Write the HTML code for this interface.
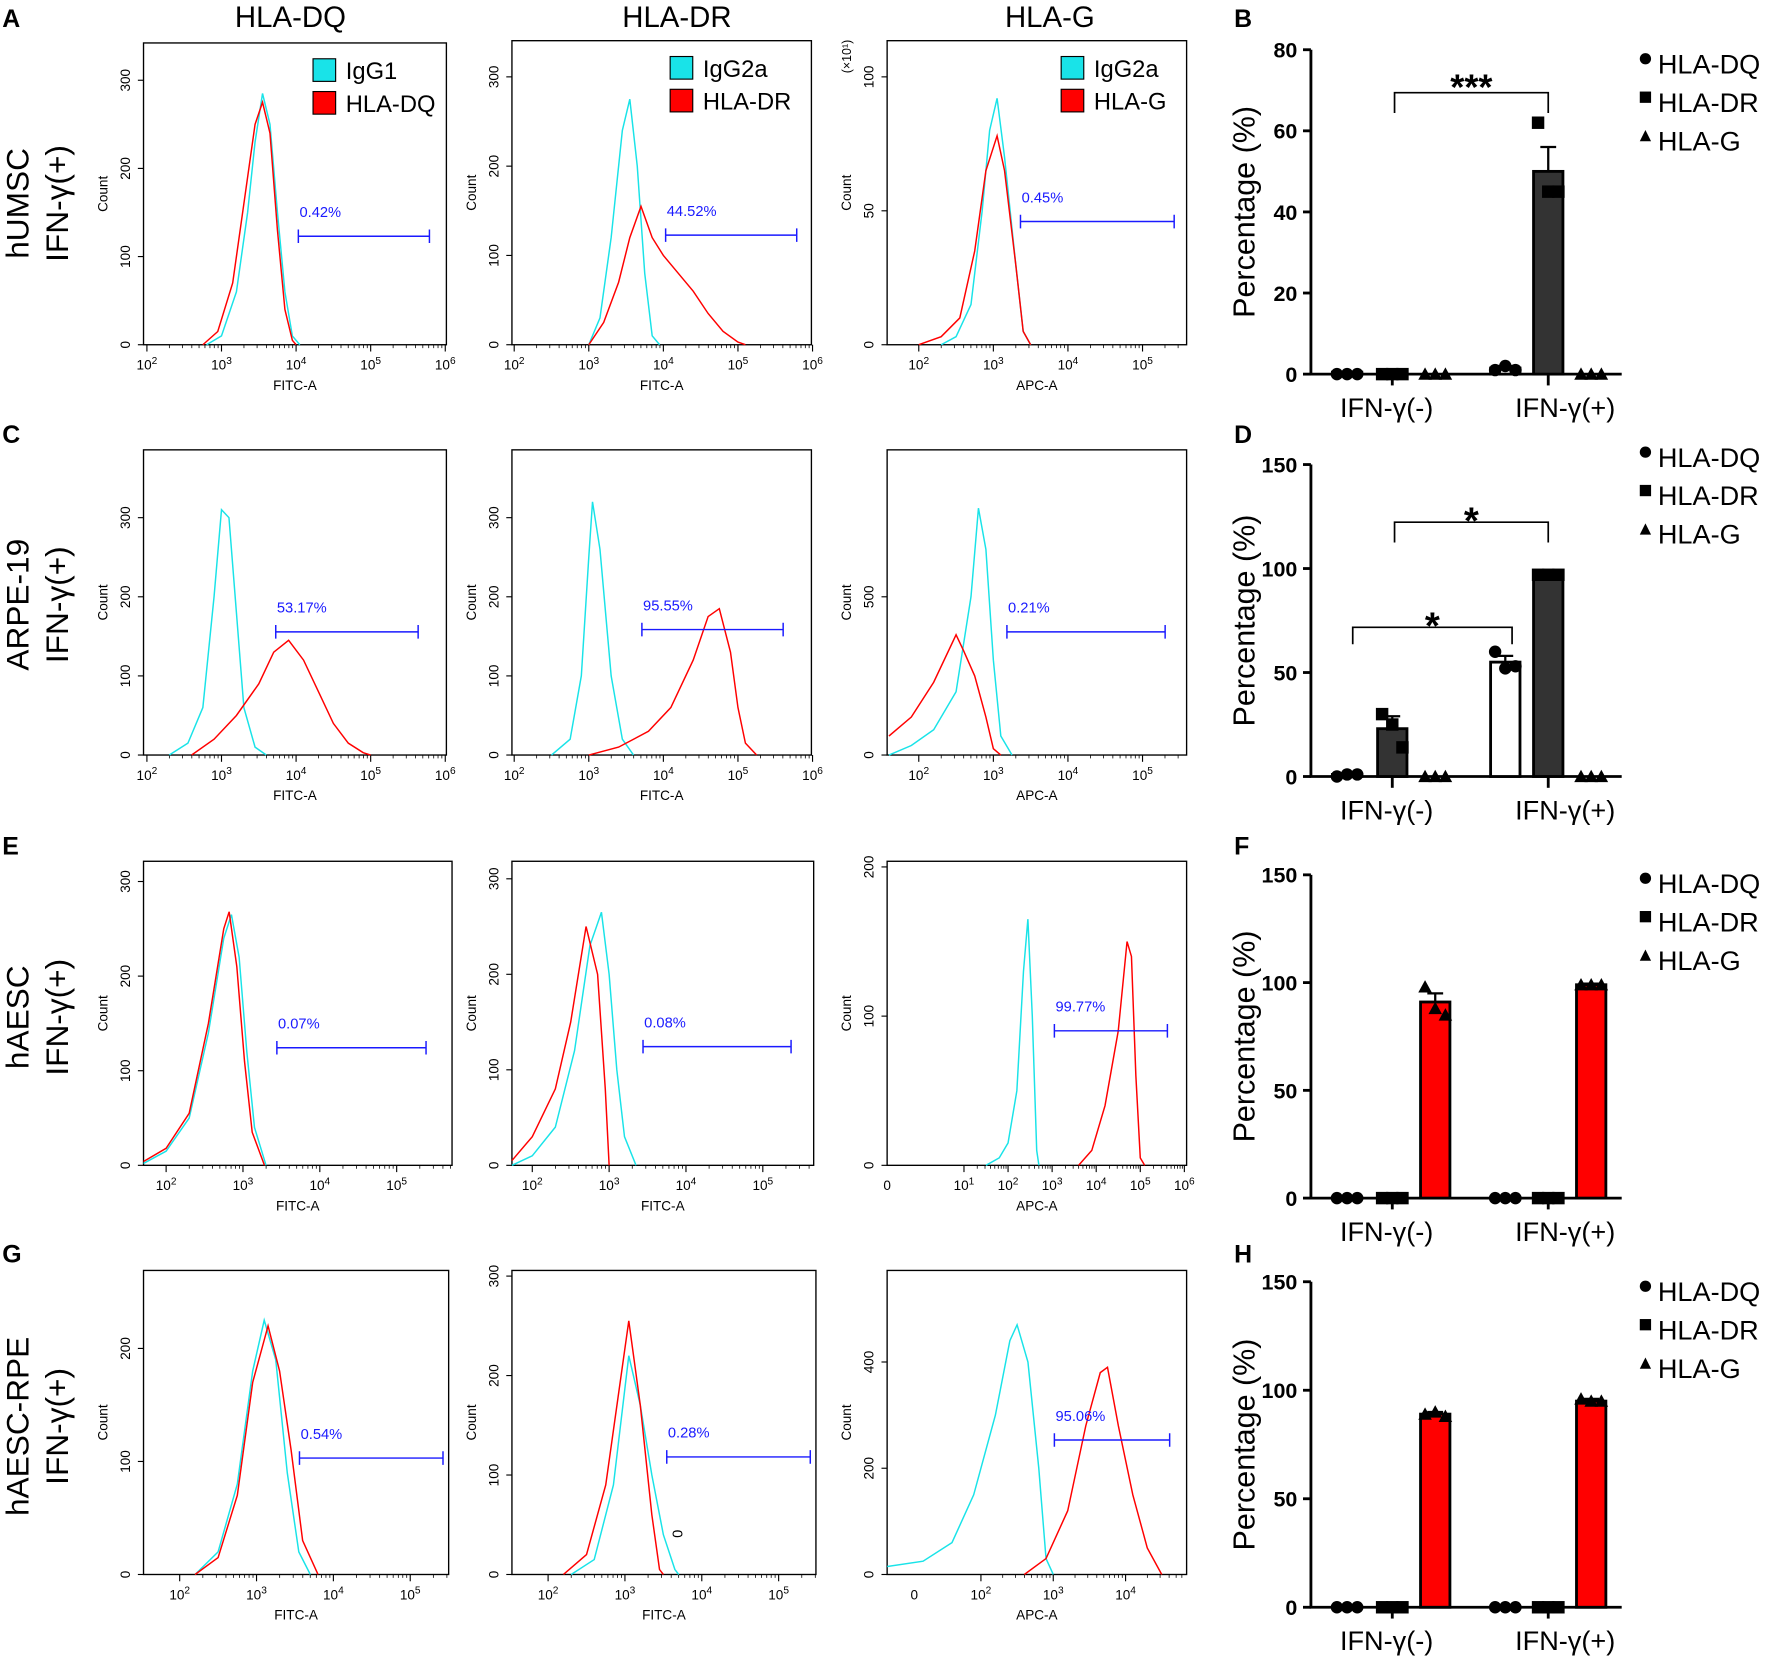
<!DOCTYPE html>
<html><head><meta charset="utf-8"><style>
html,body{margin:0;padding:0;background:#fff;}
svg{display:block;font-family:"Liberation Sans",Arial,sans-serif;}
</style></head><body>
<svg id="fig" width="1772" height="1657" viewBox="0 0 1568 1466" preserveAspectRatio="none" xmlns="http://www.w3.org/2000/svg">
<g id="static">
<text x="257" y="24" font-size="26" text-anchor="middle">HLA-DQ</text>
<text x="599" y="24" font-size="26" text-anchor="middle">HLA-DR</text>
<text x="929" y="24" font-size="26" text-anchor="middle">HLA-G</text>
<g font-weight="bold" font-size="22">
<text x="2" y="24">A</text>
<text x="1092" y="24">B</text>
<text x="2" y="392">C</text>
<text x="1092" y="392">D</text>
<text x="2" y="756">E</text>
<text x="1092" y="756">F</text>
<text x="2" y="1117">G</text>
<text x="1092" y="1117">H</text>
</g>
<g font-size="28" text-anchor="middle">
<text transform="translate(25,180) rotate(-90)">hUMSC</text>
<text transform="translate(60,180) rotate(-90)">IFN-γ(+)</text>
<text transform="translate(25,535) rotate(-90)">ARPE-19</text>
<text transform="translate(60,535) rotate(-90)">IFN-γ(+)</text>
<text transform="translate(25,900) rotate(-90)">hAESC</text>
<text transform="translate(60,900) rotate(-90)">IFN-γ(+)</text>
<text transform="translate(25,1262) rotate(-90)">hAESC-RPE</text>
<text transform="translate(60,1262) rotate(-90)">IFN-γ(+)</text>
</g>
</g>
</svg>
<script>
// ---------- Histogram data (log10 intensity, count) ----------
const a1Cyan=[[2.8,0],[3.0,10],[3.2,60],[3.35,150],[3.45,230],[3.55,285],[3.65,250],[3.75,150],[3.85,60],[3.95,10],[4.05,0]];
const a1Red=[[2.75,0],[2.95,15],[3.15,70],[3.3,160],[3.45,250],[3.55,275],[3.65,240],[3.75,130],[3.85,40],[3.95,5],[4.0,0]];
const a2Cyan=[[3.0,0],[3.15,30],[3.3,120],[3.45,240],[3.55,275],[3.65,200],[3.75,80],[3.85,10],[3.95,0]];
const a2Red=[[3.0,0],[3.2,25],[3.4,70],[3.55,120],[3.7,155],[3.85,120],[4.0,100],[4.2,80],[4.4,60],[4.6,35],[4.8,15],[5.0,3],[5.1,0]];
const a3Cyan=[[2.3,0],[2.5,3],[2.7,15],[2.85,50],[2.95,80],[3.05,92],[3.15,70],[3.3,30],[3.4,5],[3.5,0]];
const a3Red=[[2.0,0],[2.3,3],[2.55,10],[2.75,35],[2.9,65],[3.05,78],[3.15,65],[3.3,30],[3.4,5],[3.5,0]];
const c1Cyan=[[2.3,0],[2.55,15],[2.75,60],[2.9,200],[3.0,310],[3.1,300],[3.2,180],[3.3,60],[3.45,10],[3.6,0]];
const c1Red=[[2.6,0],[2.9,20],[3.2,50],[3.5,90],[3.7,130],[3.9,145],[4.1,120],[4.3,80],[4.5,40],[4.7,15],[4.9,3],[5.0,0]];
const c2Cyan=[[2.5,0],[2.75,20],[2.9,100],[3.0,250],[3.05,320],[3.15,260],[3.3,100],[3.45,20],[3.6,0]];
const c2Red=[[3.0,0],[3.4,10],[3.8,30],[4.1,60],[4.4,120],[4.6,175],[4.75,185],[4.9,130],[5.0,60],[5.1,15],[5.25,0]];
const c3Cyan=[[1.6,0],[1.9,30],[2.2,80],[2.5,200],[2.7,500],[2.8,780],[2.9,650],[3.0,300],[3.1,60],[3.25,0]];
const c3Red=[[1.6,60],[1.9,120],[2.2,230],[2.5,380],[2.6,330],[2.75,250],[2.9,120],[3.0,20],[3.1,0]];
const e1Cyan=[[1.7,2],[2.0,15],[2.3,50],[2.55,140],[2.75,240],[2.85,265],[2.95,220],[3.05,120],[3.15,40],[3.3,0]];
const e1Red=[[1.7,4],[2.0,18],[2.3,55],[2.55,150],[2.75,250],[2.82,268],[2.92,210],[3.02,110],[3.12,35],[3.28,0]];
const e2Cyan=[[1.7,0],[2.0,10],[2.3,40],[2.55,120],[2.75,230],[2.9,265],[3.0,200],[3.1,100],[3.2,30],[3.35,0]];
const e2Red=[[1.7,5],[2.0,30],[2.3,80],[2.5,150],[2.7,250],[2.85,200],[2.95,80],[3.0,0]];
const e3Cyan=[[1.5,0],[1.8,5],[2.0,15],[2.2,50],[2.35,130],[2.45,165],[2.55,100],[2.65,10],[2.7,0]];
const e3Red=[[3.6,0],[3.9,10],[4.2,40],[4.5,90],[4.7,150],[4.8,140],[4.9,60],[5.0,5],[5.1,0]];
const g1Cyan=[[2.2,0],[2.5,20],[2.75,80],[2.95,180],[3.1,225],[3.25,190],[3.4,90],[3.55,20],[3.7,0]];
const g1Red=[[2.2,0],[2.5,15],[2.75,70],[2.95,170],[3.15,220],[3.3,180],[3.45,110],[3.6,30],[3.8,0]];
const g2Cyan=[[2.3,0],[2.6,15],[2.85,90],[3.05,220],[3.2,170],[3.35,100],[3.5,40],[3.65,5],[3.7,0]];
const g2Red=[[2.2,0],[2.5,20],[2.75,90],[2.95,200],[3.05,255],[3.2,170],[3.35,60],[3.45,5],[3.5,0]];
const g3Cyan=[[0.7,15],[1.2,25],[1.6,60],[1.9,150],[2.2,300],[2.4,440],[2.5,470],[2.65,400],[2.8,200],[2.9,30],[3.0,0]];
const g3Red=[[2.6,0],[2.9,30],[3.2,120],[3.45,280],[3.65,380],[3.75,390],[3.9,280],[4.1,150],[4.3,50],[4.5,0]];
const gateLabels=["0.42%","44.52%","0.45%","53.17%","95.55%","0.21%","0.07%","0.08%","99.77%","0.54%","0.28%","95.06%"];

// ---------- Bar chart data ----------
const groups=["IFN-γ(-)","IFN-γ(+)"];
const markers=["HLA-DQ","HLA-DR","HLA-G"];
const bMeans=[0.5,0.5,0,1.5,50,0];
const bReps=[[0,0,0],[0,0,0],[0,0,0],[1,2,1],[62,45,45],[0,0,0]];
const bErr=[0,0,0,0.5,6,0];
const dMeans=[1,23,0,55,97,0];
const dReps=[[0,1,1],[30,25,14],[0,0,0],[60,52,53],[97,97,97],[0,0,0]];
const dErr=[0.5,6,0,3,0.5,0];
const fMeans=[0,0,91,0,0,99];
const fReps=[[0,0,0],[0,0,0],[98,88,85],[0,0,0],[0,0,0],[99,99,99]];
const fErr=[0,0,4,0,0,0.5];
const hMeans=[0,0,89,0,0,95];
const hReps=[[0,0,0],[0,0,0],[0,0,0],[0,0,0],[0,0,0],[0,0,0]];
const hRepsG=[[89,90,88],[96,95,95]];
const hErr=[0,0,1,0,0,1];
const yTicksB=[0,20,40,60,80];
const yTicksDFH=[0,50,100,150];

const NS="http://www.w3.org/2000/svg";
const svg=document.getElementById('fig');
function mk(tag,attrs,parent){const e=document.createElementNS(NS,tag);for(const k in attrs)e.setAttribute(k,attrs[k]);(parent||svg).appendChild(e);return e;}

const panels=[
 {id:'a1',box:[127,38,395,305],x0:130,xr:2,dec:66,y0:305,ppc:0.78,yt:[0,100,200,300],xt:[[2,'10','2'],[3,'10','3'],[4,'10','4'],[5,'10','5'],[6,'10','6']],xl:'FITC-A',cy:a1Cyan,rd:a1Red,gate:[264,380,209],leg:['IgG1','HLA-DQ']},
 {id:'a2',box:[453,36,718,305],x0:455,xr:2,dec:66,y0:305,ppc:0.79,yt:[0,100,200,300],xt:[[2,'10','2'],[3,'10','3'],[4,'10','4'],[5,'10','5'],[6,'10','6']],xl:'FITC-A',cy:a2Cyan,rd:a2Red,gate:[589,705,208],leg:['IgG2a','HLA-DR']},
 {id:'a3',box:[785,36,1050,305],x0:813,xr:2,dec:66,y0:305,ppc:2.37,yt:[0,50,100],xt:[[2,'10','2'],[3,'10','3'],[4,'10','4'],[5,'10','5']],xl:'APC-A',cy:a3Cyan,rd:a3Red,gate:[903,1039,196],leg:['IgG2a','HLA-G'],exp:true},
 {id:'c1',box:[127,398,395,668],x0:130,xr:2,dec:66,y0:668,ppc:0.70,yt:[0,100,200,300],xt:[[2,'10','2'],[3,'10','3'],[4,'10','4'],[5,'10','5'],[6,'10','6']],xl:'FITC-A',cy:c1Cyan,rd:c1Red,gate:[244,370,559]},
 {id:'c2',box:[453,398,718,668],x0:455,xr:2,dec:66,y0:668,ppc:0.70,yt:[0,100,200,300],xt:[[2,'10','2'],[3,'10','3'],[4,'10','4'],[5,'10','5'],[6,'10','6']],xl:'FITC-A',cy:c2Cyan,rd:c2Red,gate:[568,693,557]},
 {id:'c3',box:[785,398,1050,668],x0:813,xr:2,dec:66,y0:668,ppc:0.28,yt:[0,500],xt:[[2,'10','2'],[3,'10','3'],[4,'10','4'],[5,'10','5']],xl:'APC-A',cy:c3Cyan,rd:c3Red,gate:[891,1031,559]},
 {id:'e1',box:[127,762,400,1031],x0:147,xr:2,dec:68,y0:1031,ppc:0.837,yt:[0,100,200,300],xt:[[2,'10','2'],[3,'10','3'],[4,'10','4'],[5,'10','5']],xl:'FITC-A',cy:e1Cyan,rd:e1Red,gate:[245,377,927]},
 {id:'e2',box:[453,762,720,1031],x0:471,xr:2,dec:68,y0:1031,ppc:0.845,yt:[0,100,200,300],xt:[[2,'10','2'],[3,'10','3'],[4,'10','4'],[5,'10','5']],xl:'FITC-A',cy:e2Cyan,rd:e2Red,gate:[569,700,926]},
 {id:'e3',box:[785,762,1050,1031],x0:853,xr:1,dec:39,y0:1031,ppc:1.32,yt:[0,100,200],xt:[[1,'10','1'],[2,'10','2'],[3,'10','3'],[4,'10','4'],[5,'10','5'],[6,'10','6']],zero:785,xl:'APC-A',cy:e3Cyan,rd:e3Red,gate:[933,1033,912]},
 {id:'g1',box:[127,1124,397,1393],x0:159,xr:2,dec:68,y0:1393,ppc:1.0,yt:[0,100,200],xt:[[2,'10','2'],[3,'10','3'],[4,'10','4'],[5,'10','5']],xl:'FITC-A',cy:g1Cyan,rd:g1Red,gate:[265,392,1290]},
 {id:'g2',box:[453,1124,722,1393],x0:485,xr:2,dec:68,y0:1393,ppc:0.88,yt:[0,100,200,300],xt:[[2,'10','2'],[3,'10','3'],[4,'10','4'],[5,'10','5']],xl:'FITC-A',cy:g2Cyan,rd:g2Red,gate:[590,717,1289]},
 {id:'g3',box:[785,1124,1050,1393],x0:868,xr:2,dec:64,y0:1393,ppc:0.47,yt:[0,200,400],xt:[[2,'10','2'],[3,'10','3'],[4,'10','4']],zero:809,xl:'APC-A',cy:g3Cyan,rd:g3Red,gate:[933,1035,1274]}
];

panels.forEach((p,i)=>{
 const g=mk('g',{});
 
 
 const [x1,y1,x2,y2]=p.box;
 const X=l=>p.x0+(l-p.xr)*p.dec;
 const Y=c=>p.y0-c*p.ppc;
 const fr=mk('rect',{x:x1,y:y1,width:x2-x1,height:y2-y1,fill:'none',stroke:'#000','stroke-width':1.2},g);
 
 
 p.yt.forEach(v=>{
  const y=Y(v);
  const t=mk('line',{x1:x1-5,x2:x1,y1:y,y2:y,stroke:'#000'},g);
  
  
  const tx=mk('text',{transform:`translate(${x1-12},${y}) rotate(-90)`,'font-size':12,'text-anchor':'middle'},g);
  tx.textContent=v;
  
  
 });
 const yl=mk('text',{transform:`translate(${x1-32},${(y1+y2)/2}) rotate(-90)`,'font-size':12,'text-anchor':'middle'},g);
 yl.textContent='Count';
 
 
 if(p.exp){
  const ex=mk('text',{transform:`translate(${x1-32},${y1+14}) rotate(-90)`,'font-size':11,'text-anchor':'middle'},g);
  ex.textContent='(×10¹)';
  
  
 }
 p.xt.forEach(t=>{
  const x=X(t[0]);
  const tk=mk('line',{x1:x,x2:x,y1:y2,y2:y2+6,stroke:'#000'},g);
  
  
  for(let m=2;m<10;m++){const xm=x+Math.log10(m)*p.dec;if(xm<x2&&xm>x1){const mt=mk('line',{x1:xm,x2:xm,y1:y2,y2:y2+3,stroke:'#000','stroke-width':0.7},g);
   
   }}
  const tx=mk('text',{x:x,y:y2+22,'font-size':12,'text-anchor':'middle'},g);
  tx.innerHTML=t[1]+'<tspan dy="-5" font-size="9">'+t[2]+'</tspan>';
  
  
 });
 if(p.zero){
  const z=mk('text',{x:p.zero,y:y2+22,'font-size':12,'text-anchor':'middle'},g);
  z.textContent='0';
  
  
 }
 const xl=mk('text',{x:(x1+x2)/2,y:y2+40,'font-size':12,'text-anchor':'middle'},g);
 xl.textContent=p.xl;
 
 
 [[p.cy,'#19e3e8','isotype-curve'],[p.rd,'#ff0000','stain-curve']].forEach(c=>{
  const pts=c[0].map(d=>[Math.max(x1,Math.min(x2,X(d[0]))),Y(d[1])]);
  const pl=mk('polyline',{points:pts.map(q=>q.join(',')).join(' '),fill:'none',stroke:c[1],'stroke-width':1.3},g);
  
  
 });
 const [gx1,gx2,gy]=p.gate;
 const gl=mk('path',{d:`M${gx1},${gy-6}V${gy+6}M${gx1},${gy}H${gx2}M${gx2},${gy-6}V${gy+6}`,stroke:'#1a1aff','stroke-width':1.3,fill:'none'},g);
 
 
 const gt=mk('text',{x:gx1+1,y:gy-17,'font-size':13,fill:'#1a1aff'},g);
 gt.textContent=gateLabels[i];
 
 
 if(p.leg){
  p.leg.forEach((L,k)=>{
   const lx=x1+150-(p.id==='a1'?0:p.id==='a2'?10:-4), ly=y1+14+k*29;
   const r=mk('rect',{x:lx,y:ly,width:20,height:20,fill:k?'#ff0000':'#19e3e8',stroke:'#000','stroke-width':1},g);
   
   
   const t=mk('text',{x:lx+29,y:ly+18,'font-size':21},g);
   t.textContent=L;
   
   
  });
 }
});
const tiny=mk('text',{transform:'translate(604,1357) rotate(-90)','font-size':13,'text-anchor':'middle'});
tiny.textContent='0';



const bars=[
 {id:'b',y0:331,ymax:80,ytop:44,ticks:yTicksB,means:bMeans,reps:bReps,err:bErr,fills:['#fff','#333','#fff'],legY:56,sig:[[1234,1370,82,100,'***']]},
 {id:'d',y0:687,ymax:150,ytop:411,ticks:yTicksDFH,means:dMeans,reps:dReps,err:dErr,fills:['#fff','#333','#fff'],legY:404,sig:[[1234,1370,462,480,'*'],[1197,1338,555,570,'*']]},
 {id:'f',y0:1060,ymax:150,ytop:774,ticks:yTicksDFH,means:fMeans,reps:fReps,err:fErr,fills:['#fff','#333','#ff0000'],legY:781,sig:[]},
 {id:'h',y0:1422,ymax:150,ytop:1134,ticks:yTicksDFH,means:hMeans,reps:hReps,err:hErr,fills:['#fff','#333','#ff0000'],legY:1142,sig:[]}
];
const barX=[1192,1232,1270,1332,1370,1408];
bars.forEach(b=>{
 if(b.id==='h'){b.reps=b.reps.slice();b.reps[2]=hRepsG[0];b.reps[5]=hRepsG[1];}
 const g=mk('g',{});
 
 
 const Y=v=>b.y0-v*(b.y0-b.ytop)/b.ymax;
 const ax=mk('path',{d:`M1160,${b.ytop}V${b.y0}H1435`,stroke:'#000','stroke-width':2.5,fill:'none'},g);
 
 
 b.ticks.forEach(v=>{
  const t=mk('line',{x1:1153,x2:1160,y1:Y(v),y2:Y(v),stroke:'#000','stroke-width':2.5},g);
  
  
  const tx=mk('text',{x:1148,y:Y(v)+7,'font-size':19,'font-weight':'bold','text-anchor':'end'},g);
  tx.textContent=v;
  
  
 });
 [1232,1370].forEach((x,k)=>{
  const t=mk('line',{x1:x,x2:x,y1:b.y0,y2:b.y0+10,stroke:'#000','stroke-width':2.5},g);
  
  
  const tx=mk('text',{x:k?1385:1227,y:b.y0+38,'font-size':24,'text-anchor':'middle'},g);
  tx.textContent=groups[k];
  
  
 });
 const yt=mk('text',{transform:`translate(1110,${(b.y0+b.ytop)/2}) rotate(-90)`,'font-size':27,'text-anchor':'middle'},g);
 yt.textContent='Percentage (%)';
 
 
 b.means.forEach((m,i)=>{
  const x=barX[i],mi=i%3;
  const r=mk('rect',{x:x-13,y:Y(m),width:26,height:b.y0-Y(m),fill:b.fills[mi],stroke:'#000','stroke-width':2.5},g);
  
  
  if(b.err[i]>0){
   const e=mk('path',{d:`M${x},${Y(m)}V${Y(m+b.err[i])}M${x-7},${Y(m+b.err[i])}H${x+7}`,stroke:'#000','stroke-width':2},g);
   
   
  }
  b.reps[i].forEach((v,k)=>{
   const px=x-9+k*9,py=Y(v);
   let mkr;
   if(mi===0)mkr=mk('circle',{cx:px,cy:py,r:5.5,fill:'#000'},g);
   else if(mi===1)mkr=mk('rect',{x:px-5.5,y:py-5.5,width:11,height:11,fill:'#000'},g);
   else mkr=mk('path',{d:`M${px},${py-6}L${px+6},${py+5}L${px-6},${py+5}Z`,fill:'#000'},g);
   
   
  });
 });
 b.sig.forEach(s=>{
  const p=mk('path',{d:`M${s[0]},${s[3]}V${s[2]}H${s[1]}V${s[3]}`,stroke:'#000','stroke-width':1.5,fill:'none'},g);
  
  
  const t=mk('text',{x:(s[0]+s[1])/2,y:s[2]+ (s[4]==='*'?10:6),'font-size':s[4]==='*'?34:32,'font-weight':'bold','text-anchor':'middle'},g);
  t.textContent=s[4];
  
  
 });
 markers.forEach((L,k)=>{
  const ly=b.legY+k*34;
  let m;
  if(k===0)m=mk('circle',{cx:1456,cy:ly-4,r:5,fill:'#000'},g);
  else if(k===1)m=mk('rect',{x:1451,y:ly-9,width:10,height:10,fill:'#000'},g);
  else m=mk('path',{d:`M1456,${ly-9}L1461,${ly+1}L1451,${ly+1}Z`,fill:'#000'},g);
  
  
  const t=mk('text',{x:1467,y:ly+9,'font-size':24},g);
  t.textContent=L;
  
  
 });
});
</script>
</body></html>
